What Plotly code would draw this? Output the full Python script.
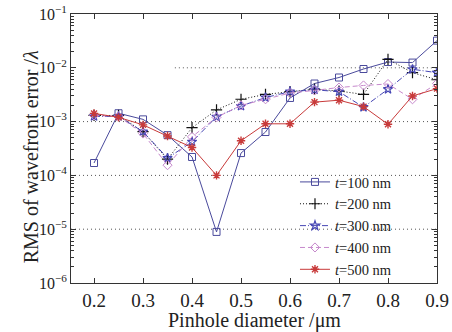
import plotly.graph_objects as go

diam = [0.2, 0.25, 0.3, 0.35, 0.4, 0.45, 0.5, 0.55, 0.6, 0.65, 0.7, 0.75, 0.8, 0.85, 0.9]

t100 = [1.7e-4, 1.43e-3, 1.1e-3, 5.6e-4, 2.2e-4, 8.9e-6, 2.6e-4, 6.4e-4, 2.75e-3, 5.1e-3, 6.6e-3, 9.5e-3, 1.28e-2, 1.25e-2, 3.2e-2]
t200 = [1.3e-3, 1.3e-3, 6.5e-4, 2.0e-4, 7.7e-4, 1.65e-3, 2.6e-3, 3.2e-3, 3.6e-3, 4.0e-3, 3.7e-3, 3.2e-3, 1.44e-2, 8.1e-3, 6.0e-3]
t300 = [1.25e-3, 1.25e-3, 6.5e-4, 2.1e-4, 4.2e-4, 1.23e-3, 1.95e-3, 2.8e-3, 3.6e-3, 3.9e-3, 3.6e-3, 1.85e-3, 4.0e-3, 9.4e-3, 8.1e-3]
t400 = [1.3e-3, 1.25e-3, 6.0e-4, 1.55e-4, 5.2e-4, 1.2e-3, 2.0e-3, 2.6e-3, 3.4e-3, 3.8e-3, 4.3e-3, 4.7e-3, 5.0e-3, 2.6e-3, 5.1e-3]
t500 = [1.42e-3, 1.2e-3, 8.7e-4, 5.4e-4, 3.3e-4, 1.0e-4, 4.4e-4, 9.1e-4, 9.1e-4, 2.3e-3, 2.5e-3, 1.9e-3, 8.9e-4, 3.0e-3, 4.1e-3]

names = ["<i>t</i>=100 nm", "<i>t</i>=200 nm", "<i>t</i>=300 nm", "<i>t</i>=400 nm", "<i>t</i>=500 nm"]
x_ticks = [0.2, 0.3, 0.4, 0.5, 0.6, 0.7, 0.8, 0.9]
y_ticks = [1e-6, 1e-5, 1e-4, 1e-3, 1e-2, 1e-1]
y_ticktext = ["10<sup>−6</sup>", "10<sup>−5</sup>", "10<sup>−4</sup>", "10<sup>−3</sup>", "10<sup>−2</sup>", "10<sup>−1</sup>"]

SERIF = "Liberation Serif, Times New Roman, serif"

styles = [
    dict(color="#4a4a9c", dash="solid", symbol="square-open", size=7, mw=1),
    dict(color="#111111", dash="1px,2px", symbol="cross-thin-open", size=8, mw=1.2),
    dict(color="#4646b4", dash="6px,2px,1px,2px", symbol="star-open", size=7, mw=1.2),
    dict(color="#c688cc", dash="5px,3px", symbol="diamond-open", size=7, mw=1),
    dict(color="#c83a3a", dash="solid", symbol="asterisk-open", size=7, mw=1.4),
]

fig = go.Figure()
for ys, nm, st in zip([t100, t200, t300, t400, t500], names, styles):
    fig.add_trace(go.Scatter(
        x=diam, y=ys, name=nm, mode="lines+markers",
        line=dict(color=st["color"], width=1, dash=st["dash"]),
        marker=dict(symbol=st["symbol"], size=st["size"], color=st["color"],
                    line=dict(color=st["color"], width=st["mw"])),
    ))

# dotted reference lines
for yv in [1e-3, 1e-4, 1e-5]:
    fig.add_shape(type="line", xref="paper", yref="y", x0=0, x1=1, y0=yv, y1=yv,
                  line=dict(color="#555555", width=1, dash="1px,3px"), layer="below")
fig.add_shape(type="line", xref="x", yref="y", x0=0.365, x1=0.9, y0=1e-2, y1=1e-2,
              line=dict(color="#555555", width=1, dash="1px,3px"), layer="below")

fig.update_layout(
    width=452, height=332,
    margin=dict(l=71, r=15, t=14, b=49, autoexpand=False),
    paper_bgcolor="white", plot_bgcolor="white",
    font=dict(family=SERIF, color="#222222"),
    showlegend=True,
    legend=dict(x=0.612, y=0.435, xanchor="left", yanchor="top",
                bgcolor="rgba(0,0,0,0)", borderwidth=0,
                font=dict(family=SERIF, size=14.5, color="#222222"),
                tracegroupgap=0, itemwidth=30),
    xaxis=dict(range=[0.153, 0.9], tickvals=x_ticks, ticktext=[f"{v:.1f}" for v in x_ticks],
               ticks="inside", ticklen=5, tickcolor="#333333",
               showline=True, linecolor="#333333", linewidth=1, mirror="ticks",
               showgrid=False, zeroline=False, automargin=False,
               tickfont=dict(family=SERIF, size=19, color="#222222")),
    yaxis=dict(type="log", range=[-6, -1], tickvals=y_ticks, ticktext=y_ticktext,
               ticks="inside", ticklen=5, tickcolor="#333333",
               minor=dict(ticks="inside", ticklen=3, tickcolor="#333333", dtick="D1"),
               showline=True, linecolor="#333333", linewidth=1, mirror="ticks",
               showgrid=False, zeroline=False, automargin=False,
               tickfont=dict(family=SERIF, size=16, color="#222222")),
)

fig.add_annotation(text="Pinhole diameter /μm", xref="paper", yref="paper",
                   x=0.5, y=-0.09, xanchor="center", yanchor="top", showarrow=False,
                   font=dict(family=SERIF, size=20, color="#222222"))
fig.add_annotation(text="RMS of wavefront error /<i>λ</i>", xref="paper", yref="paper",
                   x=-0.11, y=0.47, xanchor="center", yanchor="middle", textangle=-90,
                   showarrow=False,
                   font=dict(family=SERIF, size=20, color="#222222"))

fig.write_html("out.html", config={"displayModeBar": False},
               post_script="document.body.style.margin='0px';document.body.style.overflow='hidden';")
